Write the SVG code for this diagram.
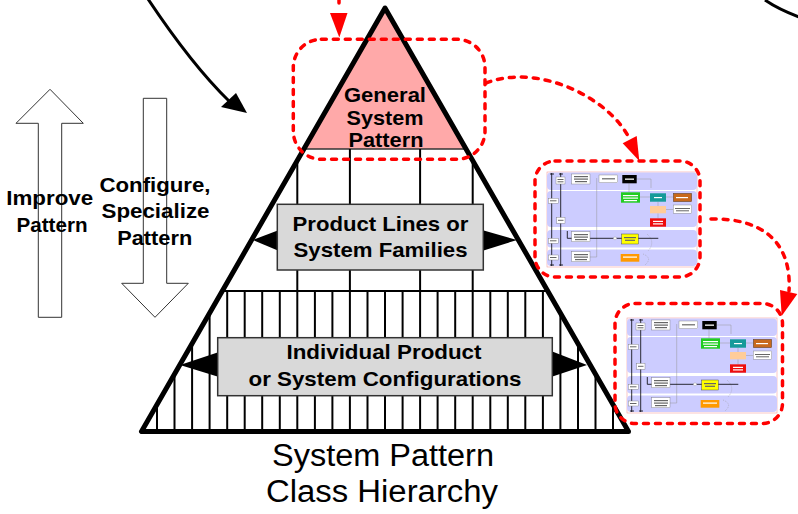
<svg xmlns="http://www.w3.org/2000/svg" width="798" height="514" viewBox="0 0 798 514">
<style>
  .bold{font-family:"Liberation Sans",Arial,sans-serif;font-weight:bold;font-size:21px;fill:#000;text-anchor:middle}
  .cap{font-family:"Liberation Sans",Arial,sans-serif;font-size:31px;fill:#000;text-anchor:middle}
  .outline{fill:#fff;stroke:#333;stroke-width:1}
  .grid{stroke:#000;stroke-width:2;fill:none}
  .box{fill:#d9d9d9;stroke:#333;stroke-width:1.5}
  .wedge{fill:#000}
  .red{fill:none;stroke:#f00;stroke-width:3.5;stroke-dasharray:5 7;stroke-linecap:round}
  .redhead{fill:#f00}
  .black{fill:none;stroke:#000;stroke-width:3}
  .lane{fill:#ccccff}
  .tb{fill:#fff;stroke:#777;stroke-width:0.4}
  .tl{stroke:#000;stroke-width:0.8;fill:none}
  .tg{stroke:#999;stroke-width:0.5;fill:none}
  .tx{fill:#666}
  .tw{fill:#fff}
</style>
<defs>
  <clipPath id="pyrClip">
    <polygon points="385,8 141.5,431.5 628.5,431.5"/>
  </clipPath>
  <filter id="soft" x="-5%" y="-5%" width="110%" height="110%">
    <feGaussianBlur stdDeviation="0.4"/>
  </filter>
  <!-- miniature swimlane diagram, 150 x 95 -->
  <g id="thumbImg">
    <rect x="0" y="0" width="150" height="95" fill="#fff" stroke="#f4a0a0" stroke-width="0.6"/>
    <rect class="lane" x="0" y="0.5" width="150" height="17.5" rx="4"/>
    <rect class="lane" x="0" y="19" width="150" height="36" rx="4"/>
    <rect class="lane" x="0" y="58" width="150" height="17.5" rx="4"/>
    <rect class="lane" x="0" y="77.5" width="150" height="16.5" rx="4"/>
    <path class="tl" d="M4.7,1 V94 M13.7,1 V94 M3,2 H7 M12,2 H16 M3,93 H7 M12,93 H16"/>
    <rect class="tb" x="9" y="5" width="9" height="7"/>
    <rect class="tb" x="1.3" y="26.3" width="10" height="5"/>
    <rect class="tb" x="9.7" y="45.3" width="8.3" height="6"/>
    <rect class="tb" x="1.3" y="66.3" width="10" height="5"/>
    <rect class="tb" x="1.3" y="83" width="10" height="5"/>
    <path class="tg" d="M49.7,6 V85 H43 M89.7,7 H104 V16 M93,25 H103 M111,29.7 V34 M111,41.3 V46.3 M82,11.3 V20.3 M119,25 H126.3 M119,37.5 H126.3"/>
    <path class="tg" stroke-dasharray="1 1" d="M100,62 Q109,70 101,79 M96,82 Q106,86 98,93"/>
    <rect class="tb" x="24.7" y="2" width="18.3" height="10"/>
    <rect class="tb" x="52" y="3" width="18.7" height="7.7"/>
    <rect x="75.3" y="3" width="14.4" height="8.3" fill="#000"/>
    <rect x="74" y="20.3" width="19" height="10.4" fill="#22cc22"/>
    <rect x="103" y="21.3" width="16" height="8.4" fill="#139a9a"/>
    <rect x="126.3" y="21.3" width="18.4" height="8.4" fill="#c8691c" stroke="#333" stroke-width="0.4"/>
    <rect x="103" y="34" width="16" height="7.3" fill="#ffcc99"/>
    <rect class="tb" x="126.3" y="33" width="18.4" height="8.3"/>
    <rect x="103" y="46.3" width="16" height="8.4" fill="#ee1111"/>
    <path class="tl" d="M20.3,66.3 H111.3 M20.3,59 V66.3"/>
    <rect class="tb" x="24.7" y="59.7" width="18.3" height="10"/>
    <rect x="74.7" y="62" width="16.6" height="10" fill="#ffff00" stroke="#333" stroke-width="0.4"/>
    <circle cx="68" cy="66.3" r="1.5" fill="#fff" stroke="#999" stroke-width="0.4"/>
    <rect x="73.7" y="82" width="18.6" height="7.7" fill="#ff9900"/>
    <rect class="tb" x="24.7" y="79.7" width="18.3" height="10"/>
    <!-- tiny label strokes inside the boxes -->
    <g class="tx">
      <rect x="27" y="4" width="14" height="1.2"/><rect x="27" y="6.5" width="14" height="1.2"/><rect x="28" y="9" width="12" height="1.2"/>
      <rect x="55" y="6.2" width="13" height="1.2"/>
      <rect x="128" y="36" width="15" height="1"/><rect x="129" y="38.3" width="13" height="1"/>
      <rect x="27" y="62" width="14" height="1.2"/><rect x="27" y="64.5" width="14" height="1.2"/><rect x="28" y="67" width="12" height="1.2"/>
      <rect x="27" y="82" width="14" height="1.2"/><rect x="27" y="84.5" width="14" height="1.2"/><rect x="28" y="87" width="12" height="1.2"/>
      <rect x="10.5" y="7" width="6" height="1"/><rect x="10.5" y="9.3" width="6" height="1"/>
      <rect x="3" y="28.3" width="6.5" height="1"/><rect x="11" y="47.8" width="5.5" height="1"/>
      <rect x="3" y="68.3" width="6.5" height="1"/><rect x="3" y="85" width="6.5" height="1"/>
      <rect x="77" y="65" width="12" height="1.2"/><rect x="78" y="67.7" width="10" height="1.2"/>
    </g>
    <g class="tw">
      <rect x="78" y="6.5" width="9" height="1.3"/>
      <rect x="76" y="23" width="15" height="1.2"/><rect x="76" y="25.5" width="15" height="1.2"/><rect x="77" y="28" width="13" height="1.2"/>
      <rect x="107" y="25" width="8" height="1.2"/><rect x="129" y="25" width="12" height="1.2"/>
      <rect x="106" y="48.8" width="10" height="1.2"/><rect x="106" y="51.3" width="10" height="1.2"/>
      <rect x="76" y="84.5" width="14" height="1.2"/>
    </g>
  </g>
</defs>

<!-- the class-hierarchy pyramid -->
<g id="pyramid">
  <polygon points="385,8 303.9,149 466.1,149" fill="#ffa9a9"/>
  <g clip-path="url(#pyrClip)">
    <path stroke="#333" stroke-width="1.5" d="M295,149 H475"/>
    <path class="grid" d="M297.3,149 V291 M349.9,149 V291 M420.1,149 V291 M472.7,149 V291 M210,291 H560"/>
    <path class="grid" d="M157,291 V432 M174.5,291 V432 M192.1,291 V432 M209.6,291 V432 M227.2,291 V432 M244.7,291 V432 M262.2,291 V432 M279.8,291 V432 M297.3,291 V432 M314.9,291 V432 M332.4,291 V432 M349.9,291 V432 M367.5,291 V432 M385,291 V432 M402.6,291 V432 M420.1,291 V432 M437.6,291 V432 M455.2,291 V432 M472.7,291 V432 M490.3,291 V432 M507.8,291 V432 M525.3,291 V432 M542.9,291 V432 M560.4,291 V432 M578,291 V432 M595.5,291 V432 M613,291 V432"/>
  </g>
  <polygon points="385,8 141.5,431.5 628.5,431.5" fill="none" stroke="#000" stroke-width="5" stroke-linejoin="round"/>
</g>

<g id="general-pattern">
  <text class="bold" x="385" y="102" textLength="82" lengthAdjust="spacingAndGlyphs">General</text>
  <text class="bold" x="385" y="124.5" textLength="77" lengthAdjust="spacingAndGlyphs">System</text>
  <text class="bold" x="386" y="147" textLength="75" lengthAdjust="spacingAndGlyphs">Pattern</text>
</g>

<g id="product-lines">
  <polygon class="wedge" points="253,240 279,230 279,251"/>
  <polygon class="wedge" points="517,240 482,230 482,251"/>
  <rect class="box" x="277.3" y="204.3" width="206" height="65.7"/>
  <text class="bold" x="380.5" y="231" textLength="176" lengthAdjust="spacingAndGlyphs">Product Lines or</text>
  <text class="bold" x="380.5" y="257" textLength="174" lengthAdjust="spacingAndGlyphs">System Families</text>
</g>

<g id="configurations">
  <polygon class="wedge" points="180,365 219,352 219,377"/>
  <polygon class="wedge" points="587,365 551,351 551,377"/>
  <rect class="box" x="217.7" y="337.7" width="334.6" height="58"/>
  <text class="bold" x="384" y="359" textLength="195" lengthAdjust="spacingAndGlyphs">Individual Product</text>
  <text class="bold" x="385" y="386" textLength="273" lengthAdjust="spacingAndGlyphs">or System Configurations</text>
</g>

<g id="improve-arrow">
  <polygon class="outline" points="50,89.3 83.3,123.3 61.7,123.3 61.7,317.3 38.3,317.3 38.3,123.3 16,123.3"/>
  <text class="bold" x="49.7" y="205" textLength="87" lengthAdjust="spacingAndGlyphs">Improve</text>
  <text class="bold" x="52" y="232" textLength="71" lengthAdjust="spacingAndGlyphs">Pattern</text>
</g>

<g id="configure-arrow">
  <polygon class="outline" points="143.3,98.3 166.7,98.3 166.7,283.3 188.3,283.3 155,317.3 121.7,283.3 143.3,283.3"/>
  <text class="bold" x="155" y="192" textLength="111" lengthAdjust="spacingAndGlyphs">Configure,</text>
  <text class="bold" x="155.5" y="218.3" textLength="108" lengthAdjust="spacingAndGlyphs">Specialize</text>
  <text class="bold" x="154.7" y="245" textLength="75" lengthAdjust="spacingAndGlyphs">Pattern</text>
</g>

<g id="hierarchy-caption">
  <text class="cap" x="383" y="466" textLength="222" lengthAdjust="spacingAndGlyphs">System Pattern</text>
  <text class="cap" x="382" y="502" textLength="232" lengthAdjust="spacingAndGlyphs">Class Hierarchy</text>
</g>

<g id="pattern-focus">
  <rect class="red" x="293.3" y="39.3" width="191.7" height="120" rx="28"/>
</g>

<g id="product-line-example">
  <use href="#thumbImg" x="547" y="172" filter="url(#soft)"/>
  <rect class="red" x="535" y="161" width="165" height="116" rx="20"/>
</g>

<g id="configuration-example">
  <use href="#thumbImg" x="627" y="318" filter="url(#soft)"/>
  <rect class="red" x="615" y="303.5" width="167.5" height="120" rx="20"/>
</g>

<g id="connectors">
  <path class="black" d="M148,-1 Q192,65 229,101"/>
  <polygon fill="#000" points="221,107 236,93 247,113"/>
  <path class="black" d="M765,0 Q778,9 799,17"/>
  <path class="red" d="M339,-2 V10"/>
  <polygon class="redhead" points="330,13 347.5,13 339.3,37.5"/>
  <path class="red" d="M486,83 C540,62 612,100 630,140"/>
  <polygon class="redhead" points="622.7,143.3 636.7,136 639.3,161"/>
  <path class="red" d="M711,219 C760,218 792,240 789,291"/>
  <polygon class="redhead" points="780,290 797.3,294 781.7,316"/>
</g>
</svg>
